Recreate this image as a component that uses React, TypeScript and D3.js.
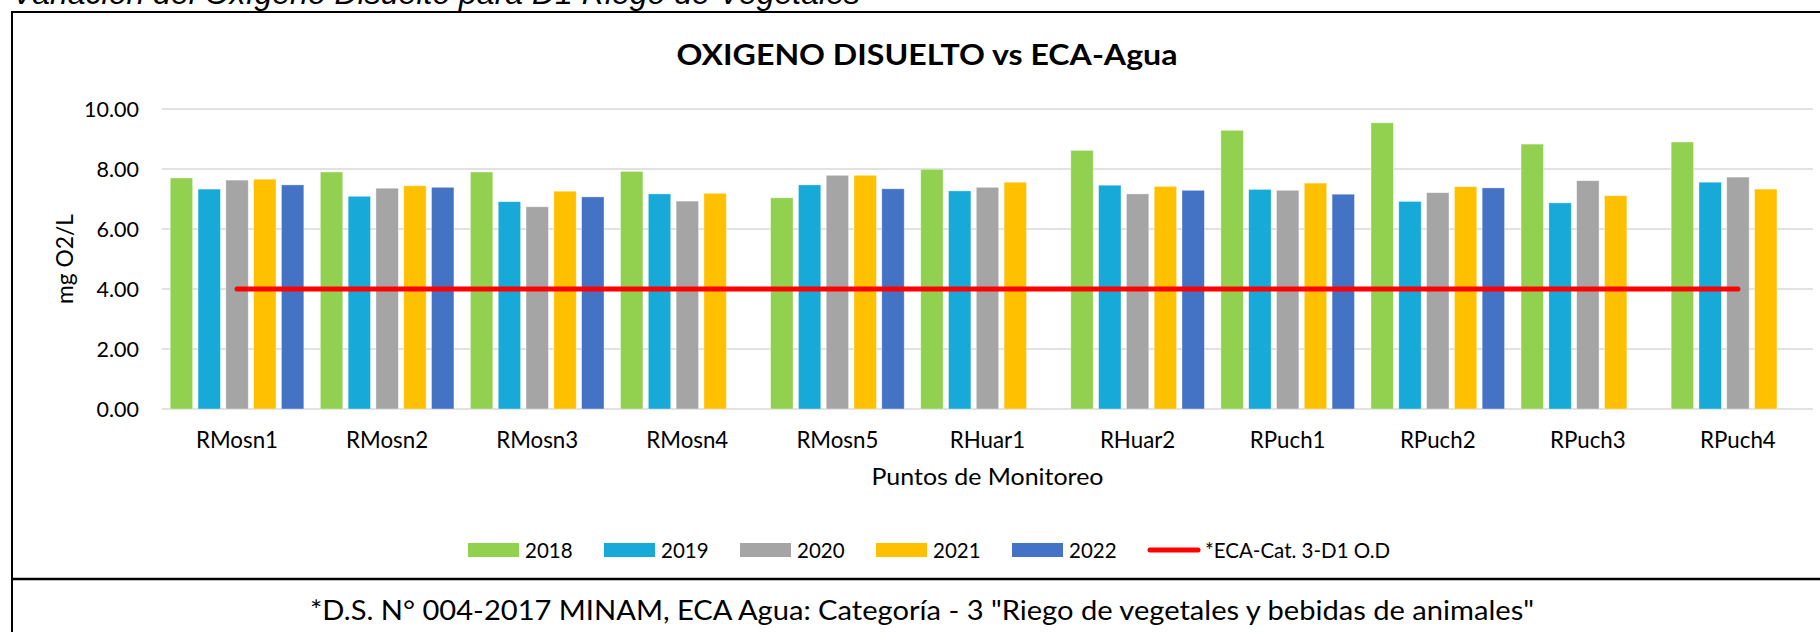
import React from "react";
import * as d3 from "d3";

const categories = ["RMosn1", "RMosn2", "RMosn3", "RMosn4", "RMosn5", "RHuar1", "RHuar2", "RPuch1", "RPuch2", "RPuch3", "RPuch4"];
const years = ["2018", "2019", "2020", "2021", "2022"];
const v2018 = [7.70, 7.90, 7.90, 7.92, 7.04, 7.99, 8.62, 9.29, 9.54, 8.83, 8.90];
const v2019 = [7.33, 7.09, 6.91, 7.17, 7.47, 7.27, 7.46, 7.32, 6.92, 6.87, 7.56];
const v2020 = [7.63, 7.36, 6.74, 6.93, 7.79, 7.39, 7.17, 7.29, 7.21, 7.61, 7.73];
const v2021 = [7.66, 7.44, 7.26, 7.19, 7.79, 7.56, 7.42, 7.53, 7.41, 7.11, 7.33];
const v2022: (number | null)[] = [7.47, 7.39, 7.07, null, 7.34, null, 7.29, 7.16, 7.37, null, null];
const ecaValue = 4;
const ecaLabel = "*ECA-Cat. 3-D1 O.D";
const yTicks = [0, 2, 4, 6, 8, 10];
const colors = ["#92D050", "#17A9D8", "#A5A5A5", "#FFC000", "#4472C4"];
const ecaColor = "#FF0000";

const captionText = "Variación del Oxígeno Disuelto para D1 Riego de Vegetales";
const titleText = "OXIGENO DISUELTO vs ECA-Agua";
const yTitle = "mg O2/L";
const xTitle = "Puntos de Monitoreo";
const footText = '*D.S. N° 004-2017 MINAM, ECA Agua: Categoría - 3 "Riego de vegetales y bebidas de animales"';

const series = [v2018, v2019, v2020, v2021, v2022];

const FONT = "Lato, 'Open Sans', sans-serif";

export default function App() {
  const W = 1820;
  const H = 632;
  const plotL = 162;
  const plotR = 1813;
  const plotT = 109;
  const plotB = 409;

  const x = d3.scaleBand<string>().domain(categories).range([plotL, plotR]).paddingInner(0).paddingOuter(0);
  const xi = d3
    .scaleBand<string>()
    .domain(years)
    .range([0, x.bandwidth()])
    .paddingInner(0.194)
    .paddingOuter(0.297);
  const y = d3.scaleLinear().domain([0, 10]).range([plotB, plotT]);

  const ecaLine = d3
    .line<string>()
    .x((c) => (x(c) as number) + x.bandwidth() / 2)
    .y(() => y(ecaValue));

  const legendItems = [...years.map((yr, i) => ({ label: yr, color: colors[i], line: false })), { label: ecaLabel, color: ecaColor, line: true }];
  const legendStart = 468;
  const legendStep = 136;

  return (
    <svg width={W} height={H} style={{ position: "absolute", left: 0, top: 0, background: "#fff" }} fontFamily={FONT}>
      <rect x={0} y={0} width={W} height={H} fill="#fff" />
      {/* caption cut at top */}
      <text x={12} y={4} fontFamily="'Liberation Sans', Arial, sans-serif" fontStyle="italic" fontSize={32} fill="#000">
        {captionText}
      </text>
      {/* chart border */}
      <rect x={12} y={12} width={W + 20} height={H + 20} fill="none" stroke="#000" strokeWidth={2} />
      <line x1={12} x2={W} y1={579} y2={579} stroke="#000" strokeWidth={2.5} />

      {/* title */}
      <text x={927} y={65} textAnchor="middle" fontWeight="bold" fontSize={29} fill="#000" textLength={501} lengthAdjust="spacingAndGlyphs">
        {titleText}
      </text>

      {/* gridlines */}
      {yTicks.map((t) => (
        <g key={t}>
          <line x1={plotL} x2={plotR} y1={y(t)} y2={y(t)} stroke="#D9D9D9" strokeWidth={1.6} />
          <text x={139} y={y(t) + 7.5} textAnchor="end" fontSize={21.5} fill="#000">
            {t.toFixed(2)}
          </text>
        </g>
      ))}

      {/* bars */}
      {categories.map((c, ci) => (
        <g key={c} transform={`translate(${x(c)},0)`}>
          {series.map((s, si) => {
            const v = s[ci];
            if (v == null) return null;
            return (
              <rect
                key={si}
                x={xi(years[si])}
                y={y(v)}
                width={xi.bandwidth()}
                height={y(0) - y(v)}
                fill={colors[si]}
                stroke="#fff"
                strokeOpacity={0.5}
                strokeWidth={0.75}
              />
            );
          })}
          <text x={x.bandwidth() / 2} y={448} textAnchor="middle" fontSize={22.3} fill="#000">
            {c}
          </text>
        </g>
      ))}

      {/* ECA line */}
      <path d={ecaLine(categories) || ""} fill="none" stroke={ecaColor} strokeWidth={5} strokeLinecap="round" />

      {/* axis titles */}
      <text x={(plotL + plotR) / 2} y={485} textAnchor="middle" fontSize={23} fill="#000" textLength={232} lengthAdjust="spacingAndGlyphs">
        {xTitle}
      </text>
      <text transform={`translate(73,${(plotT + plotB) / 2}) rotate(-90)`} textAnchor="middle" fontSize={24} fill="#000" textLength={90} lengthAdjust="spacingAndGlyphs">
        {yTitle}
      </text>

      {/* legend */}
      {legendItems.map((it, i) => {
        const lx = legendStart + i * legendStep;
        return (
          <g key={it.label}>
            {it.line ? (
              <line x1={lx + 2} x2={lx + 50} y1={550} y2={550} stroke={it.color} strokeWidth={5} strokeLinecap="round" />
            ) : (
              <rect x={lx} y={543} width={51} height={14} fill={it.color} />
            )}
            <text x={lx + 57} y={558} fontSize={20.5} fill="#000">
              {it.label}
            </text>
          </g>
        );
      })}

      {/* footnote */}
      <text x={922} y={620} textAnchor="middle" fontSize={26} fill="#000" textLength={1224} lengthAdjust="spacingAndGlyphs">
        {footText}
      </text>
    </svg>
  );
}
